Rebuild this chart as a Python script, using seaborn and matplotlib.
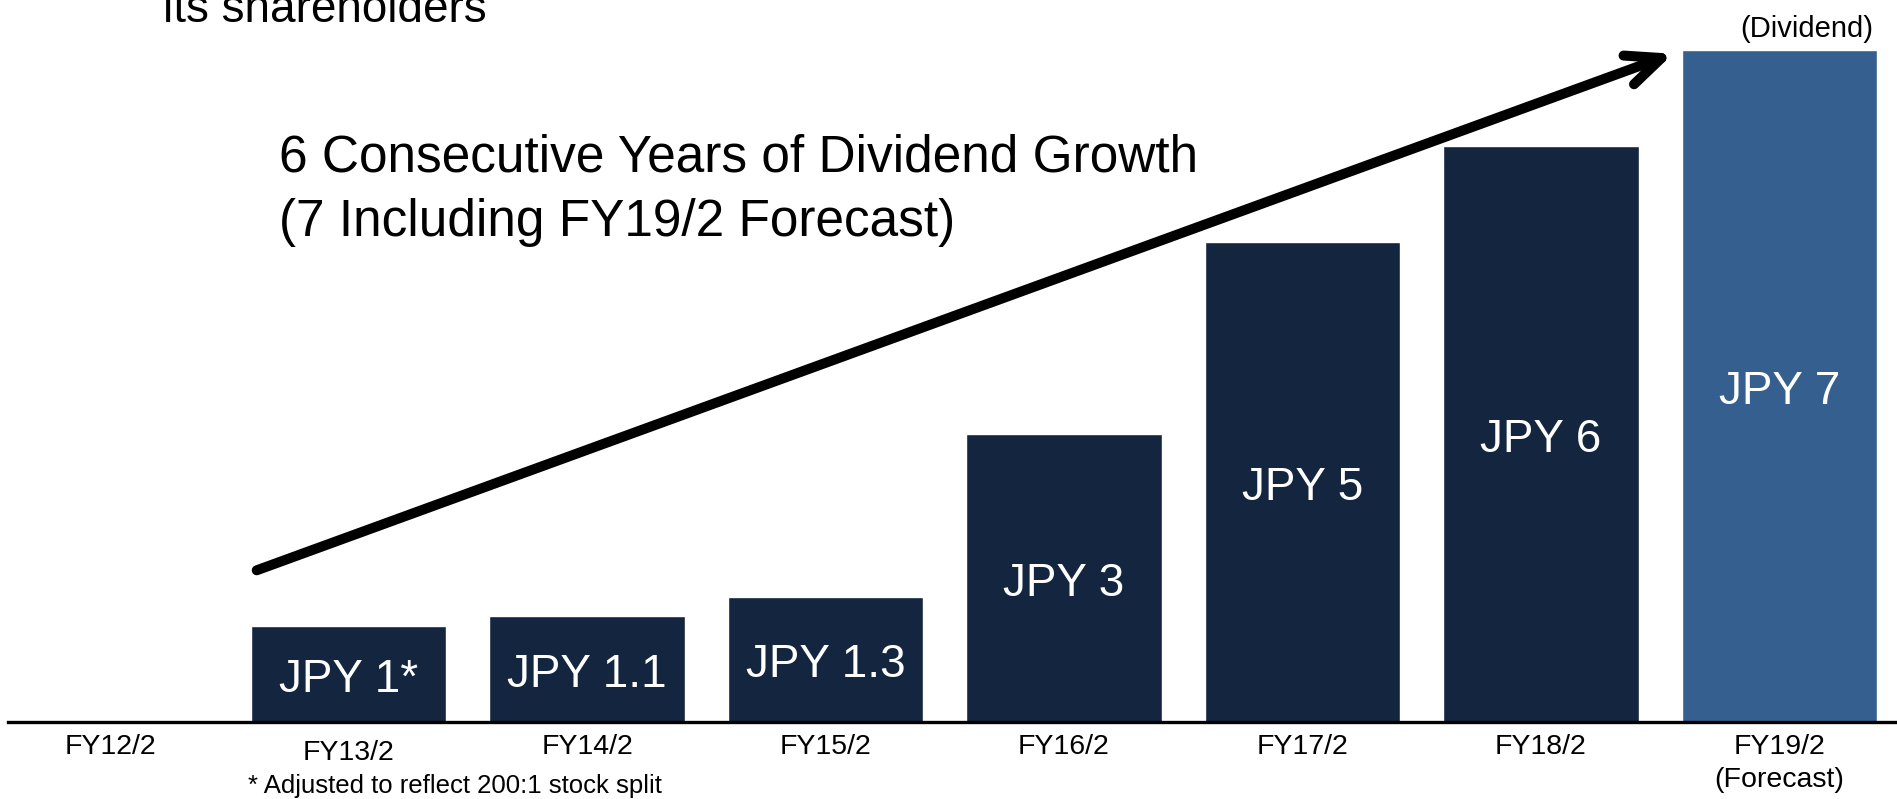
import matplotlib
matplotlib.use("Agg")
import matplotlib.pyplot as plt
import matplotlib.transforms as mtransforms
from matplotlib.patches import FancyArrowPatch
import seaborn as sns
import pandas as pd

# dividend per share (JPY), FY12/2 had no dividend
years = ["FY12/2", "FY13/2", "FY14/2", "FY15/2", "FY16/2", "FY17/2", "FY18/2", "FY19/2"]
tick_labels = ["FY12/2", "FY13/2", "FY14/2", "FY15/2", "FY16/2", "FY17/2", "FY18/2", "FY19/2\n(Forecast)"]
bar_years = ["FY13/2", "FY14/2", "FY15/2", "FY16/2", "FY17/2", "FY18/2", "FY19/2"]
dividend = [1, 1.1, 1.3, 3, 5, 6, 7]
bar_text = ["JPY 1*", "JPY 1.1", "JPY 1.3", "JPY 3", "JPY 5", "JPY 6", "JPY 7"]
kind = ["Actual"] * 6 + ["Forecast"]

NAVY = "#13253f"
BLUE = "#355f8e"

sns.set_theme(style="white")
plt.rcParams["font.family"] = ["Liberation Sans", "DejaVu Sans"]
plt.rcParams["text.color"] = "black"

df = pd.DataFrame({"year": bar_years, "dividend": dividend, "kind": kind})

fig = plt.figure(figsize=(18.97, 7.99), dpi=100)
ax = fig.add_axes([8 / 1897, 77 / 799, 1889 / 1897, 722 / 799])

sns.barplot(data=df, x="year", y="dividend", hue="kind", order=years,
            palette={"Actual": NAVY, "Forecast": BLUE}, dodge=False,
            width=0.82, saturation=1, legend=False, ax=ax)

ax.set_xlim(-0.428, 7.493)
ax.set_ylim(0, 7.52)

# labels inside the bars
for i, (v, t) in enumerate(zip(dividend, bar_text)):
    ax.annotate(t, (i + 1, v / 2), xytext=(0, -4), textcoords="offset points",
                ha="center", va="center", color="white", fontsize=33)

for s in ["top", "right", "left"]:
    ax.spines[s].set_visible(False)
ax.spines["bottom"].set_color("black")
ax.spines["bottom"].set_linewidth(2.4)
ax.set_yticks([])
ax.set_xlabel("")
ax.set_ylabel("")
ax.set_xticks(range(len(years)))
ax.set_xticklabels(tick_labels, fontsize=20.5, color="black", linespacing=1.35)
ax.tick_params(axis="x", length=0, pad=8.5)
# FY13/2 label sits a little lower in the original
lbl = ax.get_xticklabels()[1]
lbl.set_transform(lbl.get_transform() + mtransforms.ScaledTranslation(0, -6 / 100, fig.dpi_scale_trans))

# growth arrow
arrow = FancyArrowPatch((0.604, 1.57), (6.565, 6.97), transform=ax.transData,
                        arrowstyle="->,head_length=0.5,head_width=0.22",
                        mutation_scale=50, linewidth=7.2, color="black",
                        capstyle="round", joinstyle="round", clip_on=False)
ax.add_patch(arrow)

ax.text(0.709, 5.875, "6 Consecutive Years of Dividend Growth", fontsize=37, va="center", ha="left")
ax.text(0.709, 5.2, "(7 Including FY19/2 Forecast)", fontsize=37, va="center", ha="left")

fig.text(163 / 1897, 1 - 22 / 799, "its shareholders", fontsize=33, va="baseline", ha="left")
fig.text(1873 / 1897, 1 - 29 / 799, "(Dividend)", fontsize=21, va="center", ha="right")
fig.text(248 / 1897, 13 / 799, "* Adjusted to reflect 200:1 stock split", fontsize=18.5,
         va="center", ha="left")

fig.savefig("out.png", dpi=100)
